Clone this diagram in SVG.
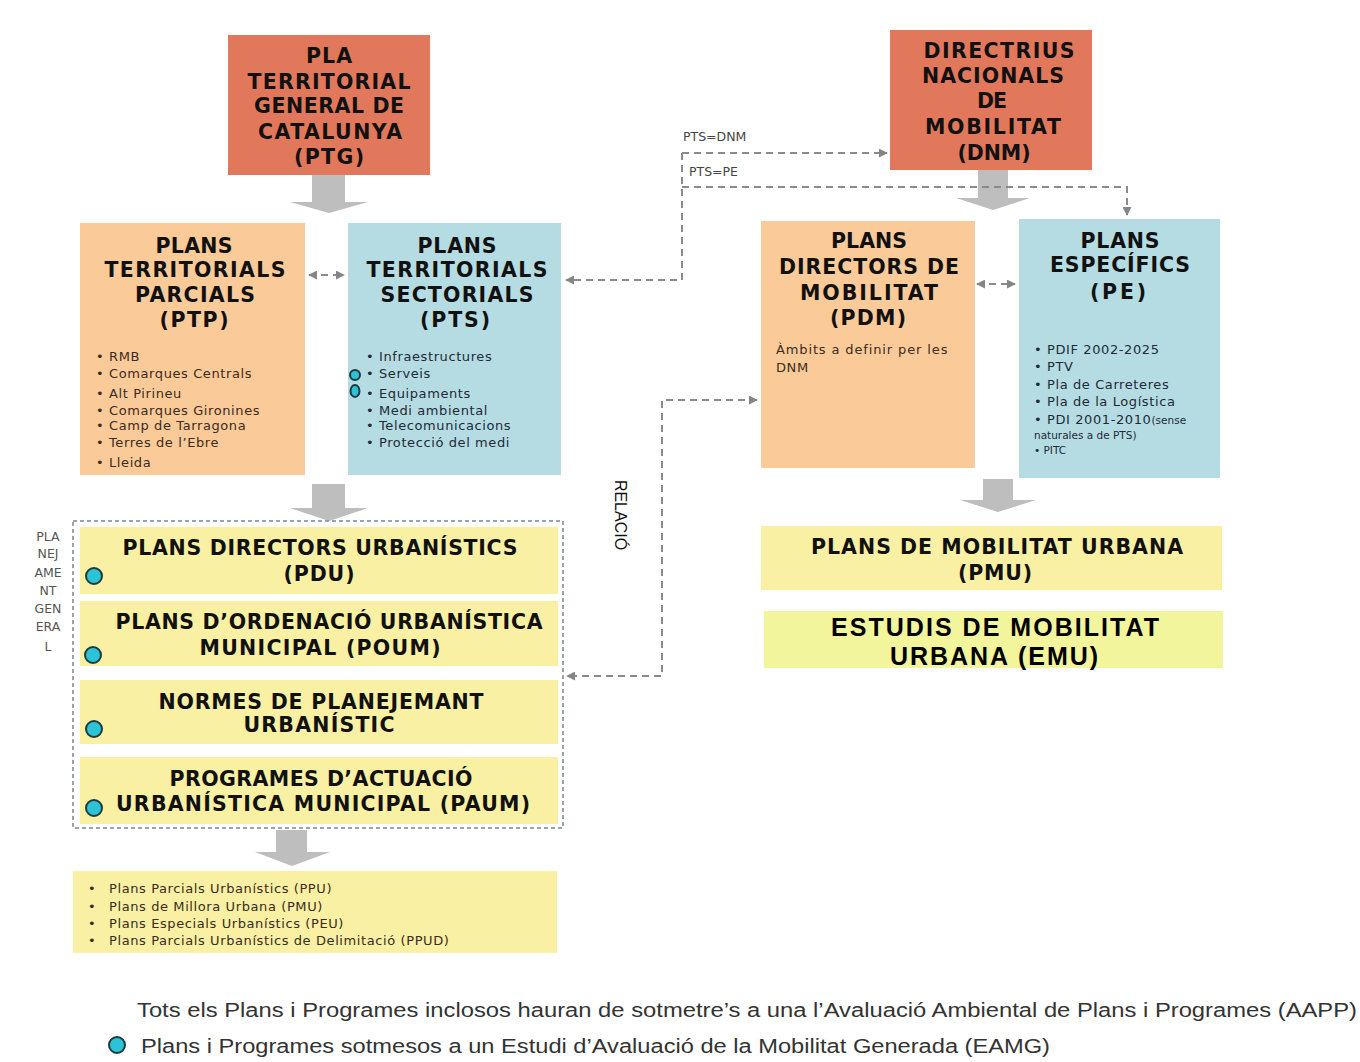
<svg xmlns="http://www.w3.org/2000/svg" width="1360" height="1062" viewBox="0 0 1360 1062">
<defs>
<marker id="ah" viewBox="0 0 10 10" refX="9" refY="5" markerWidth="9" markerHeight="9" markerUnits="userSpaceOnUse" orient="auto-start-reverse">
<path d="M0,0 L10,5 L0,10 Z" fill="#858585"/>
</marker>
<style>
.t{font-family:"DejaVu Sans",Verdana,sans-serif;font-weight:bold;font-size:20.5px;fill:#111;text-anchor:middle}
.s{font-family:"DejaVu Sans",Verdana,sans-serif;font-size:13px;letter-spacing:0.6px;fill:#3a2c20}
.sb{font-family:"DejaVu Sans",Verdana,sans-serif;font-size:13px;letter-spacing:0.6px;fill:#1d2a38}
.xs{font-family:"DejaVu Sans",Verdana,sans-serif;font-size:10.5px;fill:#1d2a38}
.lbl{font-family:"DejaVu Sans",Verdana,sans-serif;font-size:12.5px;fill:#444}
.pg{font-family:"DejaVu Sans",Verdana,sans-serif;font-size:12.5px;fill:#555;text-anchor:middle}
.leg{font-family:"Liberation Sans",Arial,sans-serif;font-size:20px;fill:#333}
.coral{fill:#E2785B}
.peach{fill:#FBCA99}
.blue{fill:#B5DCE2}
.yel{fill:#F9F0A3}
.blk{fill:#BEBEBE}
.dash{fill:none;stroke:#8A8A8A;stroke-width:2;stroke-dasharray:7,5}
.dot{fill:#2CC3D6;stroke:#1E3A3E;stroke-width:2}
</style>
</defs>
<rect width="1360" height="1062" fill="#ffffff"/>

<g id="connectors">
<polygon class="blk" points="312,175 345,175 345,202 368,202 329,213 290,202 312,202"/>
<polygon class="blk" points="978,170 1008,170 1008,198 1030,198 993,210 956,198 978,198"/>
<polygon class="blk" points="312,484 345,484 345,508 368,508 329,521 290,508 312,508"/>
<polygon class="blk" points="983,479 1013,479 1013,500 1036,500 998,512 960,500 983,500"/>
<polygon class="blk" points="276,830 307,830 307,852 330,852 292,866 255,852 276,852"/>
<path class="dash" d="M309,275 L344,275" marker-start="url(#ah)" marker-end="url(#ah)"/>
<path class="dash" d="M977,284 L1015,284" marker-start="url(#ah)" marker-end="url(#ah)"/>
<path class="dash" d="M682,153 L887,153" marker-end="url(#ah)"/>
<path class="dash" d="M682,153 L682,280 L566,280" marker-end="url(#ah)"/>
<path class="dash" d="M682,187 L1127,187 L1127,215" marker-end="url(#ah)"/>
<path class="dash" d="M757,400 L662,400 L662,676 L567,676" marker-start="url(#ah)" marker-end="url(#ah)"/>
<text class="lbl" x="683" y="141">PTS=DNM</text>
<text class="lbl" x="689" y="176">PTS=PE</text>
<text font-family="Liberation Sans, Arial, sans-serif" font-size="16" fill="#111" text-anchor="middle" transform="translate(615,515) rotate(90)">RELACIÓ</text>
</g>

<g id="ptg">
<rect class="coral" x="228" y="35" width="202" height="140"/>
<text class="t" x="329" y="63" textLength="46" lengthAdjust="spacing">PLA</text>
<text class="t" x="329" y="88.5" textLength="163" lengthAdjust="spacing">TERRITORIAL</text>
<text class="t" x="329" y="113" textLength="150" lengthAdjust="spacing">GENERAL DE</text>
<text class="t" x="330" y="138.5" textLength="144" lengthAdjust="spacing">CATALUNYA</text>
<text class="t" x="329" y="164" textLength="70" lengthAdjust="spacing">(PTG)</text>
</g>

<g id="dnm">
<rect class="coral" x="890" y="30" width="202" height="140"/>
<text class="t" x="999" y="58" textLength="151" lengthAdjust="spacing">DIRECTRIUS</text>
<text class="t" x="993" y="83" textLength="142" lengthAdjust="spacing">NACIONALS</text>
<text class="t" x="992" y="108" textLength="30" lengthAdjust="spacing">DE</text>
<text class="t" x="993" y="134" textLength="136" lengthAdjust="spacing">MOBILITAT</text>
<text class="t" x="994" y="160" textLength="73" lengthAdjust="spacing">(DNM)</text>
</g>

<g id="ptp">
<rect class="peach" x="80" y="223" width="225" height="252"/>
<text class="t" x="194" y="253" textLength="77" lengthAdjust="spacing">PLANS</text>
<text class="t" x="195" y="277" textLength="181" lengthAdjust="spacing">TERRITORIALS</text>
<text class="t" x="195" y="302" textLength="120" lengthAdjust="spacing">PARCIALS</text>
<text class="t" x="194" y="327" textLength="69" lengthAdjust="spacing">(PTP)</text>
<text class="s" x="96" y="361">• RMB</text>
<text class="s" x="96" y="378">• Comarques Centrals</text>
<text class="s" x="96" y="398">• Alt Pirineu</text>
<text class="s" x="96" y="415">• Comarques Gironines</text>
<text class="s" x="96" y="430">• Camp de Tarragona</text>
<text class="s" x="96" y="447">• Terres de l’Ebre</text>
<text class="s" x="96" y="467">• Lleida</text>
</g>

<g id="pts">
<rect class="blue" x="348" y="223" width="213" height="252"/>
<text class="t" x="457" y="253" textLength="79" lengthAdjust="spacing">PLANS</text>
<text class="t" x="457" y="277" textLength="181" lengthAdjust="spacing">TERRITORIALS</text>
<text class="t" x="457" y="302" textLength="153" lengthAdjust="spacing">SECTORIALS</text>
<text class="t" x="455" y="327" textLength="70" lengthAdjust="spacing">(PTS)</text>
<text class="sb" x="366" y="361">• Infraestructures</text>
<text class="sb" x="366" y="378">• Serveis</text>
<text class="sb" x="366" y="398">• Equipaments</text>
<text class="sb" x="366" y="415">• Medi ambiental</text>
<text class="sb" x="366" y="430">• Telecomunicacions</text>
<text class="sb" x="366" y="447">• Protecció del medi</text>
<ellipse class="dot" cx="355" cy="375" rx="5" ry="5" stroke-width="1.6"/>
<ellipse class="dot" cx="355" cy="391" rx="4.5" ry="6" stroke-width="1.6"/>
</g>

<g id="pdm">
<rect class="peach" x="761" y="221" width="214" height="247"/>
<text class="t" x="869" y="248" textLength="76" lengthAdjust="spacing">PLANS</text>
<text class="t" x="869" y="274" textLength="180" lengthAdjust="spacing">DIRECTORS DE</text>
<text class="t" x="869" y="300" textLength="138" lengthAdjust="spacing">MOBILITAT</text>
<text class="t" x="868" y="325" textLength="76" lengthAdjust="spacing">(PDM)</text>
<text class="s" x="776" y="354" textLength="172" lengthAdjust="spacing">Àmbits a definir per les</text>
<text class="s" x="776" y="372">DNM</text>
</g>

<g id="pe">
<rect class="blue" x="1019" y="219" width="201" height="259"/>
<text class="t" x="1120" y="248" textLength="79" lengthAdjust="spacing">PLANS</text>
<text class="t" x="1120" y="272" textLength="140" lengthAdjust="spacing">ESPECÍFICS</text>
<text class="t" x="1118" y="299" textLength="56" lengthAdjust="spacing">(PE)</text>
<text class="sb" x="1034" y="354">• PDIF 2002-2025</text>
<text class="sb" x="1034" y="371">• PTV</text>
<text class="sb" x="1034" y="389">• Pla de Carreteres</text>
<text class="sb" x="1034" y="406">• Pla de la Logística</text>
<text class="sb" x="1034" y="424">• PDI 2001-2010<tspan class="xs" letter-spacing="0">(sense</tspan></text>
<text class="xs" x="1034" y="439">naturales a de PTS)</text>
<text class="xs" x="1034" y="454">• PITC</text>
</g>

<g id="pmu">
<rect class="yel" x="761" y="526" width="461" height="64"/>
<text class="t" x="997" y="554" textLength="372" lengthAdjust="spacing">PLANS DE MOBILITAT URBANA</text>
<text class="t" x="995" y="580" textLength="74" lengthAdjust="spacing">(PMU)</text>
</g>

<g id="emu">
<rect fill="#F3F59D" x="764" y="611" width="459" height="57"/>
<text font-family="Liberation Sans, Arial, sans-serif" font-weight="bold" font-size="25" fill="#000" text-anchor="middle" x="995" y="636" textLength="328" lengthAdjust="spacing">ESTUDIS DE MOBILITAT</text>
<text font-family="Liberation Sans, Arial, sans-serif" font-weight="bold" font-size="25" fill="#000" text-anchor="middle" x="994" y="665" textLength="208" lengthAdjust="spacing">URBANA (EMU)</text>
</g>

<g id="planejament-general">
<rect x="73" y="521" width="490" height="307" fill="none" stroke="#7E8594" stroke-width="1.5" stroke-dasharray="4,3"/>
<text class="pg" x="48" y="541">PLA</text>
<text class="pg" x="48" y="558">NEJ</text>
<text class="pg" x="48" y="577">AME</text>
<text class="pg" x="48" y="595">NT</text>
<text class="pg" x="48" y="613">GEN</text>
<text class="pg" x="48" y="631">ERA</text>
<text class="pg" x="48" y="651">L</text>
</g>

<g id="pdu">
<rect class="yel" x="80" y="527" width="478" height="67"/>
<text class="t" x="320" y="555" textLength="395" lengthAdjust="spacing">PLANS DIRECTORS URBANÍSTICS</text>
<text class="t" x="319" y="581" textLength="71" lengthAdjust="spacing">(PDU)</text>
<circle class="dot" cx="94" cy="576" r="8"/>
</g>

<g id="poum">
<rect class="yel" x="80" y="601" width="478" height="65"/>
<text class="t" x="329" y="629" textLength="427" lengthAdjust="spacing">PLANS D’ORDENACIÓ URBANÍSTICA</text>
<text class="t" x="320" y="655" textLength="241" lengthAdjust="spacing">MUNICIPAL (POUM)</text>
<circle class="dot" cx="93" cy="655" r="8"/>
</g>

<g id="normes">
<rect class="yel" x="80" y="680" width="478" height="64"/>
<text class="t" x="321" y="709" textLength="325" lengthAdjust="spacing">NORMES DE PLANEJEMANT</text>
<text class="t" x="319" y="732" textLength="151" lengthAdjust="spacing">URBANÍSTIC</text>
<circle class="dot" cx="94" cy="729" r="8"/>
</g>

<g id="paum">
<rect class="yel" x="80" y="757" width="478" height="67"/>
<text class="t" x="321" y="786" textLength="303" lengthAdjust="spacing">PROGRAMES D’ACTUACIÓ</text>
<text class="t" x="323" y="811" textLength="414" lengthAdjust="spacing">URBANÍSTICA MUNICIPAL (PAUM)</text>
<circle class="dot" cx="94" cy="808" r="8"/>
</g>

<g id="plans-derivats">
<rect class="yel" x="73" y="871" width="484" height="82"/>
<text class="s" x="88" y="893" fill="#3a3a20">•<tspan x="109">Plans Parcials Urbanístics (PPU)</tspan></text>
<text class="s" x="88" y="911" fill="#3a3a20">•<tspan x="109">Plans de Millora Urbana (PMU)</tspan></text>
<text class="s" x="88" y="928" fill="#3a3a20">•<tspan x="109">Plans Especials Urbanístics (PEU)</tspan></text>
<text class="s" x="88" y="945" fill="#3a3a20">•<tspan x="109">Plans Parcials Urbanístics de Delimitació (PPUD)</tspan></text>
</g>

<g id="legend">
<text class="leg" x="137" y="1017" textLength="1220" lengthAdjust="spacingAndGlyphs">Tots els Plans i Programes inclosos hauran de sotmetre’s a  una l’Avaluació Ambiental de Plans i Programes (AAPP)</text>
<circle class="dot" cx="117" cy="1045" r="8"/>
<text class="leg" x="141" y="1053" textLength="909" lengthAdjust="spacingAndGlyphs">Plans i Programes sotmesos a un Estudi d’Avaluació de la Mobilitat Generada (EAMG)</text>
</g>
</svg>
